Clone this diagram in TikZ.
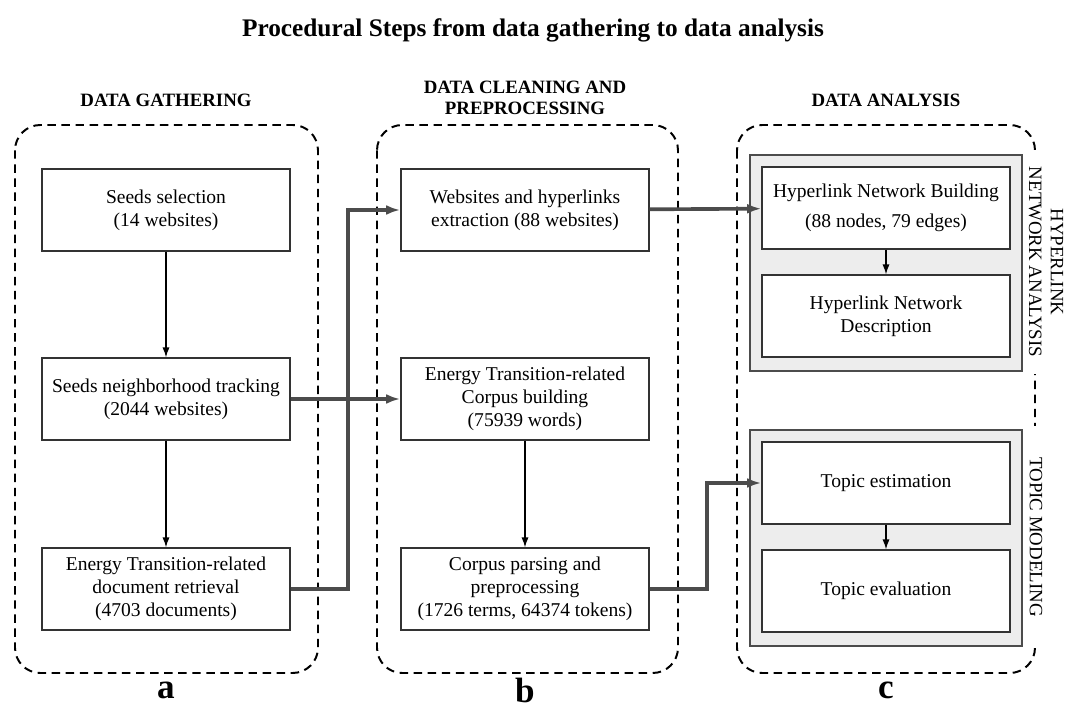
\documentclass[tikz,border=0pt]{standalone}
\usepackage{fontspec}
\setmainfont{Liberation Serif}
\usetikzlibrary{arrows.meta}

\begin{document}
\begin{tikzpicture}[x=0.025cm,y=-0.025cm,
  every node/.style={font=\fontsize{13.9}{16.2}\selectfont, align=center},
  procbox/.style={draw=black!80, line width=1pt, fill=white, minimum width=6.2cm, minimum height=2.05cm, inner sep=2pt},
  panel/.style={draw=black!70, line width=1pt, fill=black!7},
  group/.style={draw, line width=1.4pt, dash pattern=on 6pt off 4pt, rounded corners=18pt},
  header/.style={font=\fontsize{13.4}{15}\selectfont\bfseries},
  sidelabel/.style={rotate=-90, fill=white, inner ysep=1pt, font=\fontsize{13.4}{15.5}\selectfont},
  letter/.style={font=\fontsize{25}{26}\selectfont\bfseries},
  flow/.style={-{Latex[length=7pt,width=5pt]}, line width=0.8pt},
  feed/.style={-{Latex[length=10pt,width=7pt]}, line width=2.6pt, draw=black!70}
]
\useasboundingbox (0,0) rectangle (1067,709);

\node[font=\fontsize{18}{20}\selectfont\bfseries] (title) at (533,30) {Procedural Steps from data gathering to data analysis};

% the three stages
\draw[group] (15,125) rectangle (318,673);
\draw[group] (377,125) rectangle (678,673);
\draw[group] (737,125) rectangle (1035,673);

\node[header] (hA) at (166,100) {DATA GATHERING};
\node[header] (hB) at (525,98) {DATA CLEANING AND\\PREPROCESSING};
\node[header] (hC) at (886,100) {DATA ANALYSIS};

% gathering
\node[procbox] (a1) at (166,210) {Seeds selection\\(14 websites)};
\node[procbox] (a2) at (166,399) {Seeds neighborhood tracking\\(2044 websites)};
\node[procbox] (a3) at (166,589) {Energy Transition-related\\document retrieval\\(4703 documents)};

% cleaning
\node[procbox] (b1) at (525,210) {Websites and hyperlinks\\extraction (88 websites)};
\node[procbox] (b2) at (525,399) {Energy Transition-related\\Corpus building\\(75939 words)};
\node[procbox] (b3) at (525,589) {Corpus parsing and\\preprocessing\\(1726 terms, 64374 tokens)};

% analysis
\draw[panel] (750,155) rectangle (1022,371);
\draw[panel] (750,430) rectangle (1022,646);
\node[procbox] (c1) at (886,208) {Hyperlink Network Building\\[5pt](88 nodes, 79 edges)};
\node[procbox] (c2) at (886,316) {Hyperlink Network\\Description};
\node[procbox] (c3) at (886,483) {Topic estimation};
\node[procbox] (c4) at (886,591) {Topic evaluation};

\node[sidelabel, inner xsep=12pt] (lHNA) at (1046,262) {HYPERLINK\\NETWORK ANALYSIS};
\node[sidelabel, inner xsep=22pt] (lTM) at (1036,537) {TOPIC MODELING};

\node[letter] (la) at (166,690) {a};
\node[letter] (lb) at (525,690) {b};
\node[letter] (lc) at (886,690) {c};

\draw[flow] (a1) -- (a2);
\draw[flow] (a2) -- (a3);
\draw[flow] (b2) -- (b3);
\draw[flow] (c1) -- (c2);
\draw[flow] (c3) -- (c4);

\draw[feed] (a3.east) -- ++(57,0) |- (b1.west);
\draw[feed] (a2) -- (b2);
\draw[feed] (b1) -- (c1);
\draw[feed] (b3.east) -- ++(57,0) |- (c3.west);
\end{tikzpicture}
\end{document}
